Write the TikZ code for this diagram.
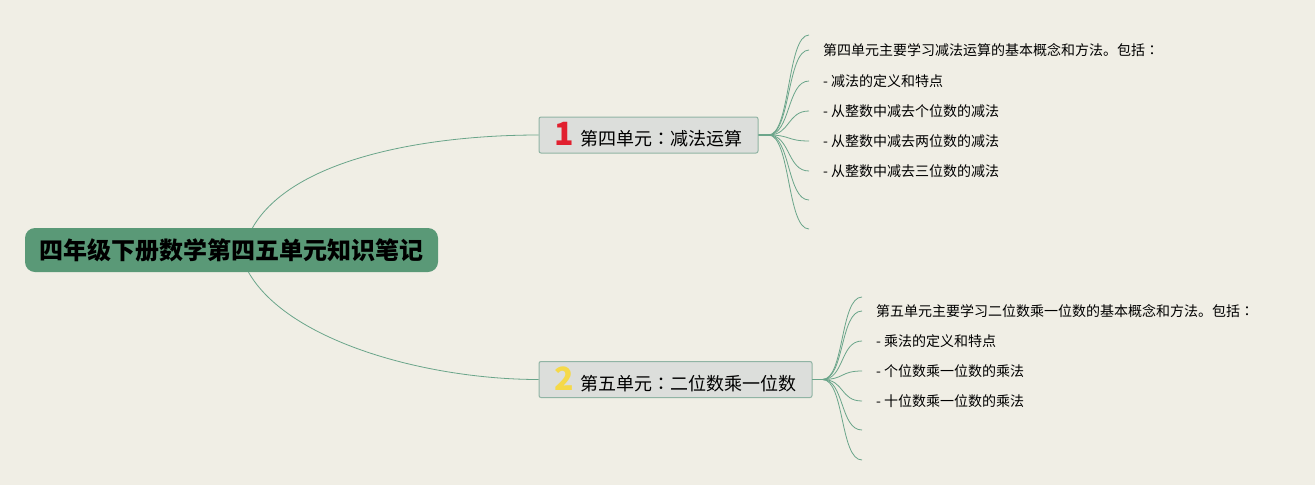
\documentclass[tikz,border=0pt]{standalone}
\usepackage{fontspec}
\newfontfamily\cjk{Noto Sans CJK SC}
\newfontfamily\cjktc{Noto Sans CJK TC}
\definecolor{bg}{HTML}{F0EEE5}
\definecolor{rootgreen}{HTML}{5A9977}
\definecolor{linegreen}{HTML}{6AA58A}
\definecolor{boxgray}{HTML}{DCDEDB}
\definecolor{boxline}{HTML}{90B4A4}
\definecolor{numred}{HTML}{E1202F}
\definecolor{numyellow}{HTML}{F5D949}
\tikzset{
  root/.style={fill=rootgreen, rounded corners=10pt, minimum width=413pt, minimum height=44pt, inner sep=0pt, font=\cjk\bfseries\fontsize{24}{28}\selectfont},
  unit/.style={fill=boxgray, draw=boxline, line width=1pt, rounded corners=2pt, minimum height=36pt, inner sep=0pt, font=\cjk\fontsize{18}{20}\selectfont},
  leaf/.style={anchor=west, inner xsep=14pt, inner ysep=2pt, font=\cjk\fontsize{14}{15}\selectfont},
  link/.style={draw=linegreen, line width=0.8pt},
}
\newcommand{\unitnum}[2]{{\bfseries\fontsize{32}{20}\selectfont\color{#1}#2}\hspace{6pt}}
\newcommand{\cjkcolon}{{\cjktc ：}}
\begin{document}
\begin{tikzpicture}[x=1pt,y=-1pt]
      \fill[bg] (0,0) rectangle (1315,485);
      \useasboundingbox (0,0) rectangle (1315,485);
      \node[root] (R) at (231.5,250) {四年级下册数学第四五单元知识笔记};
      \node[unit, minimum width=219pt] (U1) at (648.5,135) {\unitnum{numred}{1}第四单元\cjkcolon 减法运算};
      \node[unit, minimum width=273pt] (U2) at (675.5,379.5) {\unitnum{numyellow}{2}第五单元\cjkcolon 二位数乘一位数};
      \draw[link] ([xshift=21pt]R.north) .. controls +(40,-70) and +(-110,0) .. (U1.west);
      \draw[link] ([xshift=17pt]R.south) .. controls +(40,70) and +(-110,0) .. (U2.west);
      % unit 4 leaves
      \coordinate (A0) at (809,35);
      \foreach \y/\t [count=\i] in {50/第四单元主要学习减法运算的基本概念和方法。包括\cjkcolon, 81/- 减法的定义和特点,
          111/- 从整数中减去个位数的减法, 141/- 从整数中减去两位数的减法, 171/- 从整数中减去三位数的减法}{
        \node[leaf] (A\i) at (809,\y) {\t};
      }
      \coordinate (A6) at (809,200);
      \coordinate (A7) at (809,229);
      \foreach \i in {0,...,7}{
        \draw[link] (U1.east) -- ++(10,0) .. controls +(22,0) and +(-22,0) .. (A\i.west);
      }
      % unit 5 leaves
      \coordinate (B0) at (862,297);
      \foreach \y/\t [count=\i] in {311/第五单元主要学习二位数乘一位数的基本概念和方法。包括\cjkcolon, 341/- 乘法的定义和特点,
          371/- 个位数乘一位数的乘法, 401/- 十位数乘一位数的乘法}{
        \node[leaf] (B\i) at (862,\y) {\t};
      }
      \coordinate (B5) at (862,430);
      \coordinate (B6) at (862,460);
      \foreach \i in {0,...,6}{
        \draw[link] (U2.east) -- ++(10,0) .. controls +(22,0) and +(-22,0) .. (B\i.west);
      }
    \end{tikzpicture}
\end{document}
